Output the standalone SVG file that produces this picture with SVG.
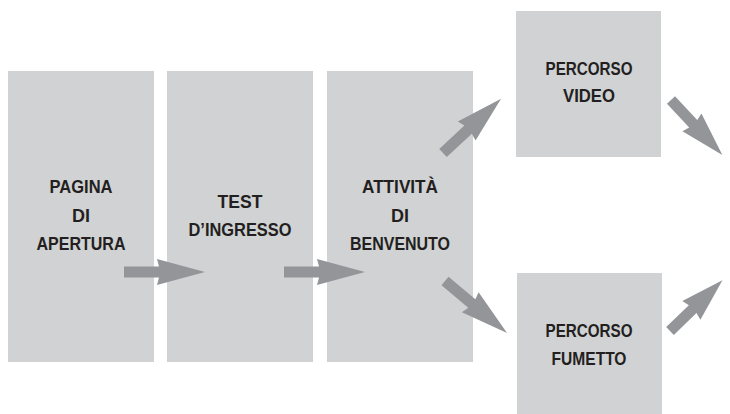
<svg xmlns="http://www.w3.org/2000/svg" width="730" height="414" viewBox="0 0 730 414">
<style>
.box{fill:#d1d2d4}
.lbl{font-family:"Liberation Sans","Arial",sans-serif;font-weight:bold;font-size:18px;fill:#231f20;text-anchor:middle}
.arr{fill:#939598}
</style>
<defs>
<polygon id="arrow" points="0,-5.5 35,-5.5 33,-13 81,0 33,13 35,5.5 0,5.5"/>
</defs>
<rect width="730" height="414" fill="#ffffff"/>
<g id="n1">
<rect class="box" x="8" y="71" width="146" height="291"/>
<text class="lbl"><tspan x="81" y="193" textLength="63" lengthAdjust="spacingAndGlyphs">PAGINA</tspan><tspan x="81" y="222">DI</tspan><tspan x="81" y="250" textLength="89" lengthAdjust="spacingAndGlyphs">APERTURA</tspan></text>
</g>
<g id="n2">
<rect class="box" x="167" y="71" width="146" height="291"/>
<text class="lbl"><tspan x="240" y="208" textLength="45" lengthAdjust="spacingAndGlyphs">TEST</tspan><tspan x="240" y="236" textLength="103" lengthAdjust="spacingAndGlyphs">D’INGRESSO</tspan></text>
</g>
<g id="n3">
<rect class="box" x="327" y="71" width="146" height="291"/>
<text class="lbl"><tspan x="400" y="193" textLength="76" lengthAdjust="spacingAndGlyphs">ATTIVITÀ</tspan><tspan x="400" y="222">DI</tspan><tspan x="400" y="250" textLength="100" lengthAdjust="spacingAndGlyphs">BENVENUTO</tspan></text>
</g>
<g id="n4">
<rect class="box" x="516" y="11" width="145" height="146"/>
<text class="lbl"><tspan x="589" y="75" textLength="87" lengthAdjust="spacingAndGlyphs">PERCORSO</tspan><tspan x="589" y="102" textLength="52" lengthAdjust="spacingAndGlyphs">VIDEO</tspan></text>
</g>
<g id="n5">
<rect class="box" x="517" y="273" width="145" height="141"/>
<text class="lbl"><tspan x="589" y="337" textLength="87" lengthAdjust="spacingAndGlyphs">PERCORSO</tspan><tspan x="589" y="365" textLength="75" lengthAdjust="spacingAndGlyphs">FUMETTO</tspan></text>
</g>
<g id="connectors" class="arr">
<use href="#arrow" transform="translate(124,272)"/>
<use href="#arrow" transform="translate(284,272)"/>
<use href="#arrow" transform="translate(443,153) rotate(-43) scale(0.98,1)"/>
<use href="#arrow" transform="translate(445,281) rotate(40)"/>
<use href="#arrow" transform="translate(671,100) rotate(47) scale(0.93,1)"/>
<use href="#arrow" transform="translate(670,331) rotate(-44) scale(0.9,1)"/>
</g>
</svg>
